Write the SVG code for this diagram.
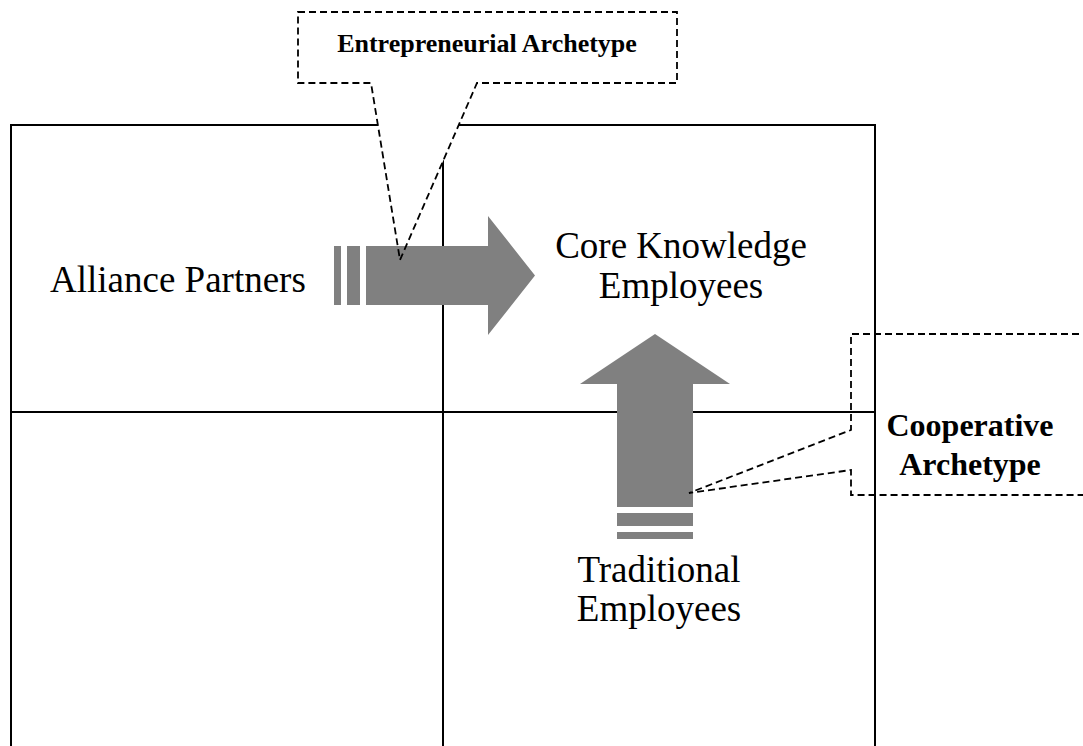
<svg xmlns="http://www.w3.org/2000/svg" width="1083" height="746" viewBox="0 0 1083 746">
<style>
.frame{stroke:#000;stroke-width:2;fill:none}
.arrow{fill:#808080}
.dash{stroke:#000;stroke-width:1.8;stroke-dasharray:7 4;fill:none}
.lbl{font-family:"Liberation Serif","Times New Roman",serif;font-size:37px;fill:#000}
.call{font-family:"Liberation Serif","Times New Roman",serif;font-weight:bold;fill:#000}
</style>
<rect width="1083" height="746" fill="#fff"/>
<g id="frame">
<polyline class="frame" points="11,747 11,125 875,125 875,747"/>
<line class="frame" x1="11" y1="412" x2="875" y2="412"/>
<line class="frame" x1="443" y1="125" x2="443" y2="747"/>
</g>
<g id="callout-entrepreneurial-fill">
<polygon points="298,12 677,12 677,83 477,83 400,260 371,83 298,83" fill="#fff"/>
</g>
<g id="connectors">
<g id="arrow-right">
<rect class="arrow" x="334" y="246" width="7" height="59"/>
<rect class="arrow" x="347" y="246" width="13" height="59"/>
<polygon class="arrow" points="366,246 488,246 488,216 535,275.5 488,335 488,305 366,305"/>
</g>
<g id="arrow-up">
<polygon class="arrow" points="617,507 617,384 580,384 655,334 730,384 693,384 693,507"/>
<rect class="arrow" x="617" y="513" width="76" height="13"/>
<rect class="arrow" x="617" y="532" width="76" height="7"/>
</g>
</g>
<g id="callout-entrepreneurial">
<polygon class="dash" points="298,12 677,12 677,83 477,83 400,260 371,83 298,83"/>
<text class="call" x="487" y="52" font-size="26" text-anchor="middle">Entrepreneurial Archetype</text>
</g>
<g id="callout-cooperative">
<polyline class="dash" points="1090,334 851,334 851,430 689,493 851,470 851,495 1090,495"/>
<text class="call" x="970" y="436" font-size="32" text-anchor="middle">Cooperative</text>
<text class="call" x="970" y="475" font-size="32" text-anchor="middle">Archetype</text>
</g>
<g id="node-alliance">
<text class="lbl" x="50" y="292">Alliance Partners</text>
</g>
<g id="node-core">
<text class="lbl" x="681" y="258" text-anchor="middle">Core Knowledge</text>
<text class="lbl" x="681" y="298" text-anchor="middle">Employees</text>
</g>
<g id="node-traditional">
<text class="lbl" x="659" y="582" text-anchor="middle">Traditional</text>
<text class="lbl" x="659" y="621" text-anchor="middle">Employees</text>
</g>
</svg>
